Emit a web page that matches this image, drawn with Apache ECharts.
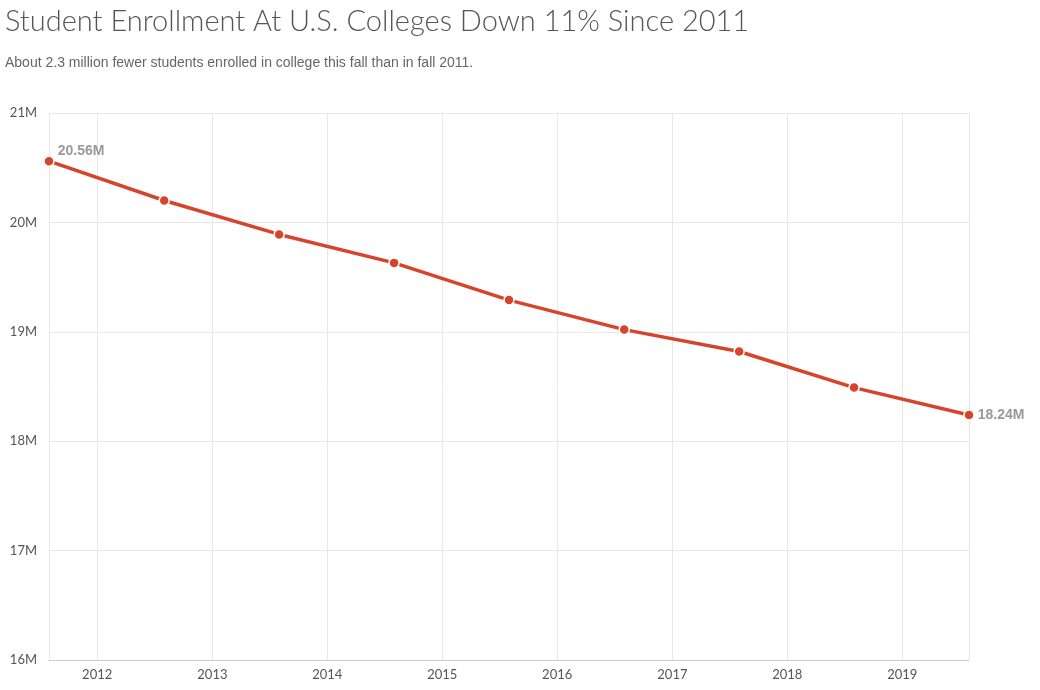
<!DOCTYPE html><html><head><meta charset="utf-8"><script src="https://cdn.jsdelivr.net/npm/echarts@6/dist/echarts.min.js"></script></head><body style="margin:0"><div id="c" style="width:1040px;height:690px"></div><script>
const dates=['2011-08-01','2012-08-01','2013-08-01','2014-08-01','2015-08-01','2016-08-01','2017-08-01','2018-08-01','2019-08-01'];
const values=[20.56,20.20,19.89,19.63,19.29,19.02,18.82,18.49,18.24];
const c=echarts.init(document.getElementById('c'));
c.setOption({
title:{text:'Student Enrollment At U.S. Colleges Down 11% Since 2011',left:0,top:2,textStyle:{fontFamily:'Lato',fontWeight:300,fontSize:29,color:'#555'},
subtext:'About 2.3 million fewer students enrolled in college this fall than in fall 2011.',subtextStyle:{fontFamily:'Liberation Sans',fontSize:14,color:'#666'},itemGap:20},
grid:{left:49,right:71,top:113,bottom:30},
xAxis:{type:'time',min:'2011-08-01',max:'2019-08-01',splitNumber:8,axisLine:{lineStyle:{color:'#ccc'}},axisTick:{show:false},
axisLabel:{formatter:'{yyyy}',color:'#555',fontSize:13,fontFamily:'Lato'},splitLine:{show:true,lineStyle:{color:'#e8e8e8'}}},
yAxis:{type:'value',min:16,max:21,interval:1,axisLabel:{formatter:v=>v+'M',color:'#555',fontSize:13,fontFamily:'Lato',margin:12},
splitLine:{lineStyle:{color:'#e8e8e8'}},axisLine:{show:false},axisTick:{show:false}},
series:[{type:'line',data:dates.map((d,i)=>[d,values[i]]),symbol:'circle',symbolSize:10,lineStyle:{color:'#d6452b',width:3.5},
itemStyle:{color:'#d6452b',borderColor:'#fff',borderWidth:1.5},
label:{show:true,formatter:p=>(p.dataIndex===0||p.dataIndex===values.length-1)?p.value[1].toFixed(2)+'M':'',
position:'right',distance:3,fontWeight:'bold',color:'#999',fontSize:14,fontFamily:'Liberation Sans',
},labelLayout:p=>p.dataIndex===0?{dy:-10}:{}}]
});
</script></body></html>
